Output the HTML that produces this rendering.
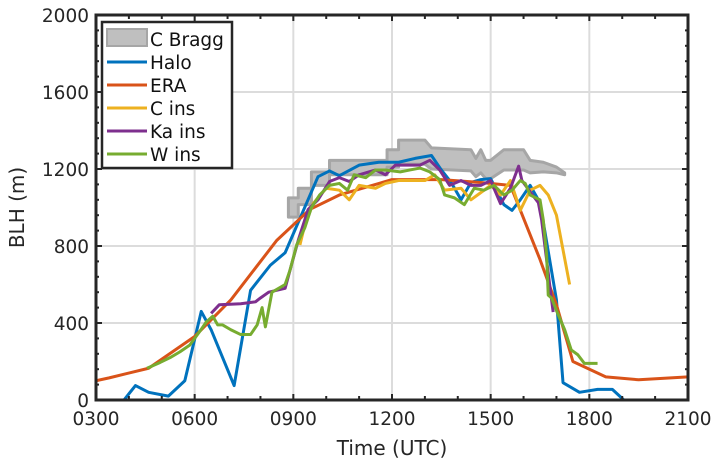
<!DOCTYPE html>
<html><head><meta charset="utf-8"><style>
body{margin:0;background:#fff;}
svg{display:block;font-family:"DejaVu Sans","Liberation Sans",sans-serif;}
</style></head><body>
<svg id="chart" width="719" height="467" viewBox="0 0 719 467"></svg>
<script>
const xTicks=[3,6,9,12,15,18,21];
const xTickLabels=["0300","0600","0900","1200","1500","1800","2100"];
const yTicks=[0,400,800,1200,1600,2000];
const eraT=[3.0,3.4,4.6,6.0,7.1,8.5,9.5,10.4,12.0,13.5,14.7,15.6,16.5,17.0,17.5,18.5,19.5,21];
const eraV=[100,115,165,330,520,830,990,1065,1145,1145,1130,1115,730,495,200,120,105,120];
const haloT=[3.85,4.2,4.6,5.2,5.7,6.2,6.5,7.2,7.7,8.3,8.75,9.75,10.1,10.4,11.0,11.6,12.2,12.7,13.2,13.5,13.8,14.1,14.4,14.7,15.0,15.4,15.65,15.9,16.2,16.5,17.0,17.2,17.7,18.25,18.7,19.05];
const haloV=[0,75,40,20,100,460,365,75,570,700,765,1160,1190,1165,1220,1235,1235,1255,1270,1195,1130,1040,1130,1145,1150,1015,985,1040,1115,1025,520,90,40,55,55,0];
const cT=[9.2,9.35,9.6,10.0,10.4,10.7,11.0,11.5,11.8,12.2,13.0,13.3,13.6,14.1,14.4,14.6,15.0,15.3,15.6,15.9,16.2,16.5,16.75,17.0,17.2,17.4];
const cV=[805,910,1020,1100,1090,1040,1115,1100,1125,1140,1140,1170,1090,1100,1040,1065,1115,1065,1140,985,1090,1115,1065,960,780,600];
const kaT=[6.5,6.75,7.4,7.85,8.0,8.25,8.75,8.9,9.15,9.45,9.75,10.1,10.4,10.7,11.0,11.5,11.8,12.1,12.4,12.85,13.15,13.45,13.75,14.1,14.4,14.7,15.0,15.3,15.6,15.85,15.95,16.25,16.45,16.55,16.7,16.8,16.9];
const kaV=[450,495,500,510,530,560,580,675,830,990,1040,1135,1155,1135,1170,1195,1170,1220,1220,1220,1245,1195,1115,1140,1115,1115,1140,1020,1100,1215,1140,1070,1025,935,730,590,457];
const wT=[4.55,4.95,5.25,5.55,5.85,6.15,6.35,6.55,6.7,6.85,7.1,7.4,7.7,7.9,8.05,8.15,8.35,8.45,8.75,8.9,9.1,9.35,9.55,9.8,10.1,10.4,10.65,10.85,11.2,11.5,11.8,12.25,12.55,12.85,13.15,13.45,13.6,13.9,14.2,14.5,14.8,15.1,15.4,15.65,15.9,16.05,16.2,16.5,16.6,16.7,16.75,16.85,17.0,17.25,17.45,17.65,17.85,18.25];
const wV=[165,195,220,250,285,355,405,435,390,390,365,340,340,390,480,380,560,570,600,675,805,895,1000,1065,1115,1125,1090,1170,1155,1195,1195,1185,1195,1205,1185,1145,1065,1050,1015,1100,1090,1115,1065,1090,1140,1125,1065,1040,935,755,545,530,465,365,260,235,190,190];
const braggT=[8.85,9.15,9.15,9.55,9.55,10.1,10.1,11.85,11.85,12.2,12.2,13.0,13.2,14.4,14.55,14.7,14.85,15.0,15.4,16.0,16.2,16.6,17.0,17.25];
const braggHi=[1050,1050,1100,1100,1185,1185,1245,1245,1300,1300,1350,1350,1310,1300,1255,1300,1245,1245,1300,1300,1245,1235,1210,1180];
const braggLo=[950,950,1015,1015,1115,1115,1170,1170,1210,1210,1225,1225,1200,1190,1160,1180,1150,1150,1195,1195,1180,1185,1180,1170];

const L=96,R=688,T=15,B=400;
const X=h=>L+(h-3)/18*(R-L);
const Y=v=>B-v/2000*(B-T);
const svg=document.getElementById('chart');
const NS='http://www.w3.org/2000/svg';
function mk(tag,attrs,parent){const e=document.createElementNS(NS,tag);for(const k in attrs)e.setAttribute(k,attrs[k]);(parent||svg).appendChild(e);return e;}

const grid=mk('g',{});


xTicks.forEach(t=>mk('line',{x1:X(t),x2:X(t),y1:T,y2:B,stroke:'#dcdcdc','stroke-width':2},grid));
yTicks.forEach(t=>mk('line',{x1:L,x2:R,y1:Y(t),y2:Y(t),stroke:'#dcdcdc','stroke-width':2},grid));

let pts=braggT.map((t,i)=>X(t)+','+Y(braggHi[i]));
for(let i=braggT.length-1;i>=0;i--)pts.push(X(braggT[i])+','+Y(braggLo[i]));
const band=mk('polygon',{points:pts.join(' '),fill:'#bfbfbf',stroke:'#a6a6a6','stroke-width':3,'stroke-linejoin':'round'});



function line(ts,vs,color,name){
  const p=mk('polyline',{points:ts.map((t,i)=>X(t)+','+Y(vs[i])).join(' '),fill:'none',stroke:color,'stroke-width':3,'stroke-linejoin':'round'});
  
  
}
line(haloT,haloV,'#0072bd','halo-line');
line(eraT,eraV,'#d95319','era-line');
line(cT,cV,'#edb120','c-ins-line');
line(kaT,kaV,'#7e2f8e','ka-ins-line');
line(wT,wV,'#77ac30','w-ins-line');

mk('rect',{x:0,y:B+1,width:719,height:67,fill:'#fff'});

const box=mk('rect',{x:L,y:T,width:R-L,height:B-T,fill:'none',stroke:'#262626','stroke-width':3});


const tk=mk('g',{stroke:'#262626','stroke-width':2});


for(let h=3;h<=21;h++){const big=h%3==0?6:4;mk('line',{x1:X(h),x2:X(h),y1:B,y2:B-big},tk);mk('line',{x1:X(h),x2:X(h),y1:T,y2:T+big},tk);}
for(let v=0;v<=2000;v+=80){const big=v%400==0?6:3;mk('line',{x1:L,x2:L+big,y1:Y(v),y2:Y(v)},tk);mk('line',{x1:R,x2:R-big,y1:Y(v),y2:Y(v)},tk);}

xTicks.forEach((t,i)=>{const e=mk('text',{x:X(t),y:B+25,'text-anchor':'middle','font-size':18.5,fill:'#262626'});e.textContent=xTickLabels[i];

});
yTicks.forEach(t=>{const e=mk('text',{x:L-7,y:Y(t)+7,'text-anchor':'end','font-size':18.5,fill:'#262626'});e.textContent=t;

});
const xt=mk('text',{x:(L+R)/2,y:455,'text-anchor':'middle','font-size':20,fill:'#262626'});xt.textContent='Time (UTC)';


const yt=mk('text',{x:0,y:0,'text-anchor':'middle','font-size':20,fill:'#262626',transform:'translate(24,'+(T+B)/2+') rotate(-90)'});yt.textContent='BLH (m)';



const lg=mk('g',{});


mk('rect',{x:102,y:22,width:130,height:146,fill:'#fff',stroke:'#262626','stroke-width':2.5},lg);
const names=['C Bragg','Halo','ERA','C ins','Ka ins','W ins'];
const cols=['#bfbfbf','#0072bd','#d95319','#edb120','#7e2f8e','#77ac30'];
names.forEach((n,i)=>{const cy=39+i*23;
 if(i==0){mk('rect',{x:107,y:cy-10,width:40,height:17,fill:'#bfbfbf',stroke:'#a6a6a6','stroke-width':2},lg);}
 else mk('line',{x1:107,x2:147,y1:cy,y2:cy,stroke:cols[i],'stroke-width':3},lg);
 const e=mk('text',{x:150,y:cy+7,'font-size':18.5,fill:'#111'},lg);e.textContent=n;
 
 
});
</script>
</body></html>
